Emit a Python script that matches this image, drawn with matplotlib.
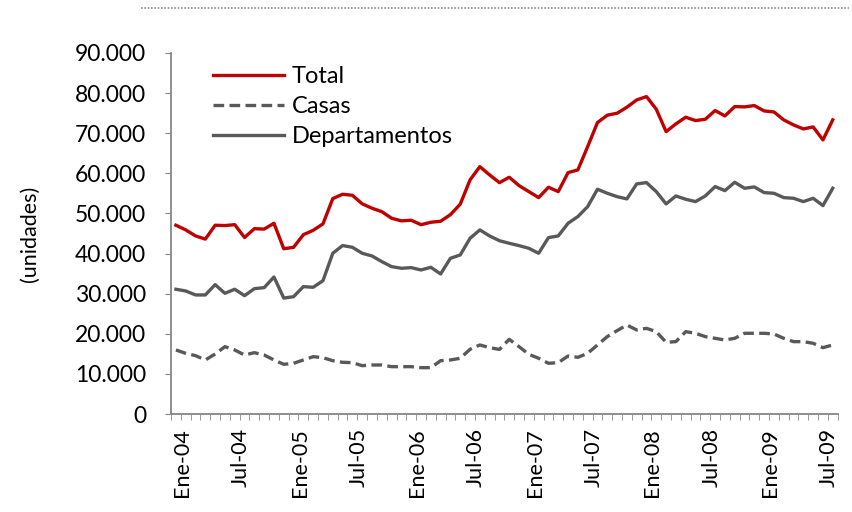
import matplotlib
matplotlib.use('Agg')
import matplotlib.pyplot as plt
import matplotlib.transforms as mtransforms
from matplotlib.lines import Line2D
from matplotlib.ticker import FuncFormatter, MultipleLocator
import numpy as np

# Serie mensual Ene-04 .. Ago-09 (unidades)
meses = ['Ene', 'Feb', 'Mar', 'Abr', 'May', 'Jun', 'Jul', 'Ago', 'Sep', 'Oct', 'Nov', 'Dic']
periodos = [m + '-' + str(a).zfill(2) for a in range(4, 10) for m in meses][:68]

total = [47060, 45900, 44400, 43600, 47060, 46980, 47200, 44000, 46200, 46100, 47550, 41200,
         41560, 44700, 45800, 47400, 53700, 54780, 54530, 52400, 51300, 50450, 48800, 48150,
         48300, 47200, 47800, 48050, 49700, 52300, 58350, 61670, 59600, 57680, 59020, 56940,
         55440, 53950, 56530, 55440, 60180, 60850, 66670, 72650, 74490, 74980, 76480, 78300,
         79130, 75980, 70400, 72320, 73990, 73150, 73480, 75650, 74310, 76640, 76560, 76890,
         75560, 75310, 73320, 72070, 71070, 71570, 68330, 73320]

casas = [15960, 15130, 14550, 13470, 14960, 16790, 15960, 14710, 15290, 14710, 13470, 12390,
         12640, 13470, 14290, 14040, 13290, 12890, 12800, 12050, 12220, 12220, 11800, 11800,
         11800, 11550, 11550, 13290, 13470, 13890, 16130, 17210, 16540, 16100, 18620, 16790,
         14880, 13890, 12640, 12800, 14460, 14130, 15130, 17210, 19290, 20780, 22190, 20950,
         21360, 20530, 17880, 18040, 20530, 20120, 19290, 18870, 18450, 18870, 20120, 20120,
         20120, 19950, 18870, 18040, 18040, 17630, 16540, 17210]

departamentos = [31100, 30670, 29680, 29680, 32250, 30090, 31100, 29500, 31250, 31500, 34160, 28900,
                 29250, 31750, 31590, 33240, 40070, 42000, 41560, 40070, 39400, 37990, 36740, 36330,
                 36490, 35910, 36570, 34910, 38820, 39650, 43800, 45890, 44390, 43200, 42560, 41980,
                 41310, 40070, 43970, 44390, 47550, 49210, 51700, 56030, 55030, 54190, 53620, 57360,
                 57690, 55440, 52370, 54360, 53540, 52950, 54360, 56690, 55690, 57770, 56280, 56610,
                 55190, 55030, 53950, 53780, 52950, 53780, 51950, 56280]

plt.rcParams['font.family'] = ['Lato', 'DejaVu Sans']

fig = plt.figure(figsize=(8.53, 5.12), dpi=100)
ax = fig.add_axes([0.2005, 0.1914, 0.7815, 0.7051])

x = np.arange(len(periodos))
rojo = '#C00000'
gris = '#595959'
ax.plot(x, total, color=rojo, lw=2.4, label='Total', solid_joinstyle='round')
ax.plot(x, casas, color=gris, lw=2.4, ls=(0, (3.2, 1.6)), label='Casas')
ax.plot(x, departamentos, color=gris, lw=2.4, label='Departamentos', solid_joinstyle='round')

ax.set_xlim(-0.5, len(periodos) - 0.5)
ax.set_ylim(0, 90000)
ax.yaxis.set_major_locator(MultipleLocator(10000))
ax.yaxis.set_major_formatter(FuncFormatter(lambda v, p: '{:,.0f}'.format(v).replace(',', '.')))

ax.set_xticks(x[::6])
ax.set_xticklabels([periodos[i] for i in x[::6]], rotation=90, fontsize=15.5)
ax.set_xticks(np.arange(-0.5, len(periodos)), minor=True)
ax.tick_params(axis='x', which='major', length=0, pad=10)
ax.tick_params(axis='x', which='minor', length=4, color='#868686', direction='out')
ax.tick_params(axis='y', length=4, color='#868686', labelsize=16.5, pad=14)
offset = mtransforms.ScaledTranslation(6 / 100, 0, fig.dpi_scale_trans)
for lab in ax.get_xticklabels():
    lab.set_transform(lab.get_transform() + offset)

for s in ['top', 'right']:
    ax.spines[s].set_visible(False)
for s in ['left', 'bottom']:
    ax.spines[s].set_color('#868686')
    ax.spines[s].set_linewidth(1.3)

ax.set_ylabel('(unidades)', fontsize=15.5)
ax.yaxis.set_label_coords(-0.197, 0.5)

ax.legend(loc='upper left', bbox_to_anchor=(0.0495, 0.99), frameon=False, fontsize=17,
          handlelength=3.0, handletextpad=0.3, labelspacing=0.38, borderaxespad=0)

fig.add_artist(Line2D([0.165, 0.995], [0.984, 0.984], transform=fig.transFigure,
                      color='#8c8c8c', lw=1.2, ls=(0, (1, 1))))

fig.savefig('out.png', dpi=100)
